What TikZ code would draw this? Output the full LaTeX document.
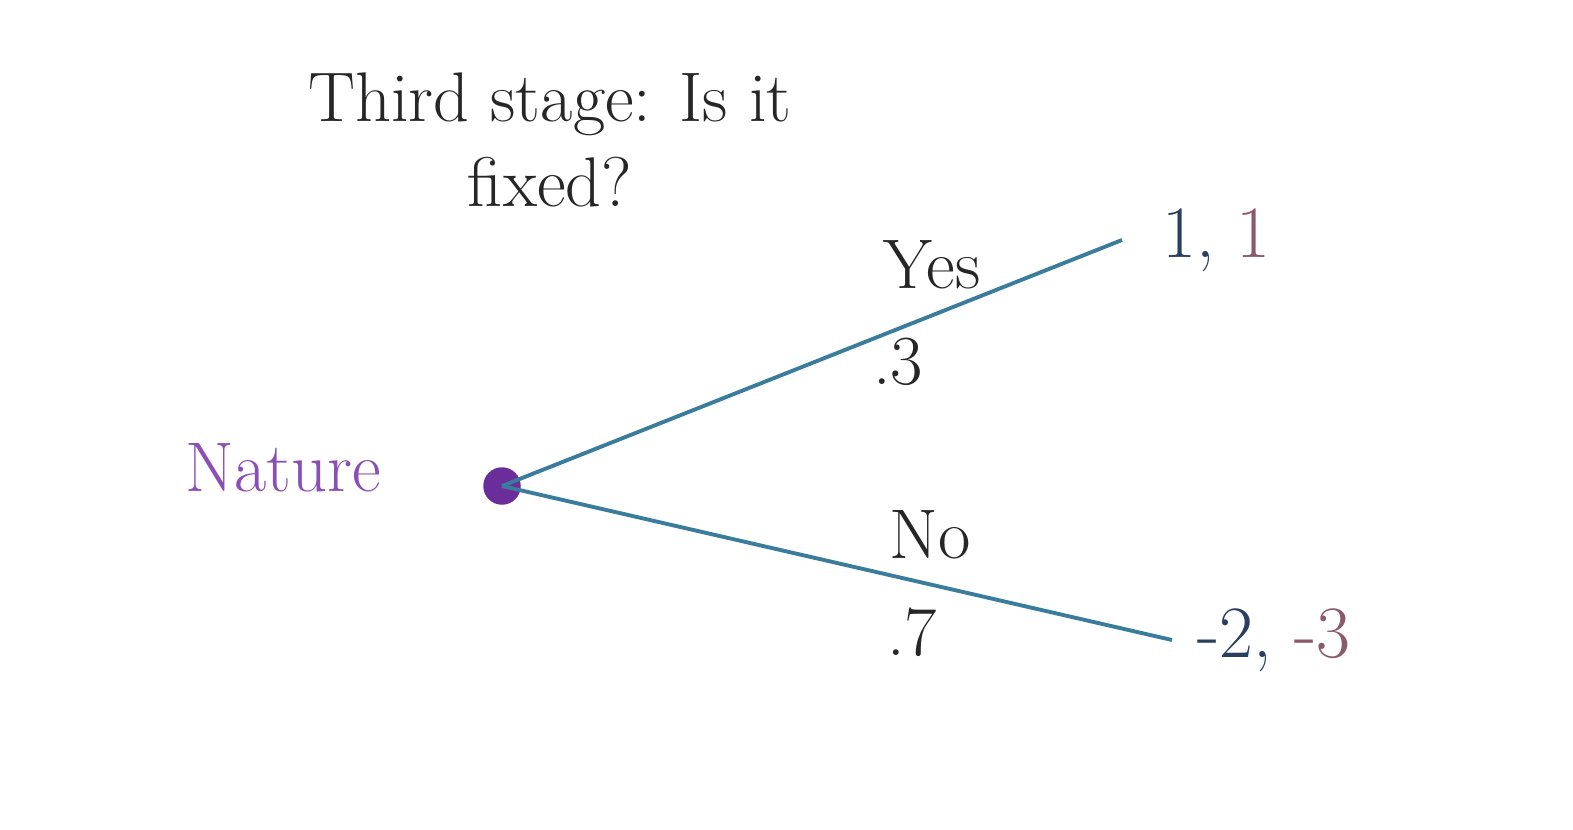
\documentclass[tikz,border=0pt]{standalone}
\usepackage{xcolor}
\definecolor{branch}{HTML}{3A7C9C}
\definecolor{nat}{HTML}{8A4FB5}
\definecolor{dotc}{HTML}{6A2D9A}
\definecolor{pone}{HTML}{2A3F5F}
\definecolor{ptwo}{HTML}{8A5A6A}
\begin{document}
\begin{tikzpicture}[x=0.02cm,y=-0.02cm,
  lbl/.style={font=\fontsize{40}{48}\selectfont, text=black!85, inner sep=0pt},
  pay/.style={font=\fontsize{42}{50}\selectfont, inner sep=0pt},
  edge/.style={draw=branch, line width=2.2pt}]
\useasboundingbox[fill=white] (0,0) rectangle (1573,829);
\node[lbl, align=center] (title) at (550,140) {Third stage: Is it\\fixed?};
\node[lbl, text=nat] (nature) at (283,468) {Nature};
\node[circle, fill=dotc, minimum size=0.75cm, inner sep=0pt] (n) at (502,486) {};
\coordinate (ey) at (1122,240);
\coordinate (en) at (1172,640);
\draw[edge] (n.center) -- (ey);
\draw[edge] (n.center) -- (en);
\node[lbl] (yes) at (932,265) {Yes};
\node[lbl] (p3) at (898,362) {.3};
\node[lbl] (no) at (930,535) {No};
\node[lbl] (p7) at (912,632) {.7};
\node[pay, anchor=west] (py) at (1162,240) {\textcolor{pone}{1,} \textcolor{ptwo}{1}};
\node[pay, anchor=west] (pn) at (1197,640) {\textcolor{pone}{-2,} \textcolor{ptwo}{-3}};
\end{tikzpicture}
\end{document}
